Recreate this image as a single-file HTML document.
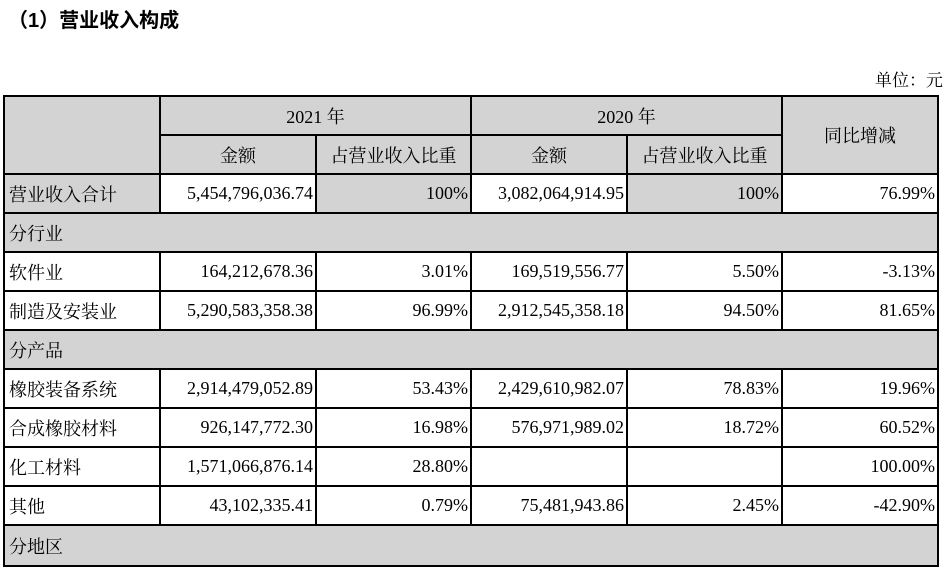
<!DOCTYPE html>
<html><head><meta charset="utf-8"><style>
body{margin:0;width:947px;height:571px;background:#fff;overflow:hidden;position:relative;font-family:"Liberation Serif","Noto Serif CJK SC",serif;color:#000}
.t{position:absolute;left:8px;top:4px;font-size:20px;font-weight:bold;font-family:"Liberation Sans","Noto Sans CJK SC",sans-serif}
.u{position:absolute;right:4px;top:66px;font-size:17px}
table{position:absolute;left:3px;top:95px;border-collapse:collapse;table-layout:fixed;font-size:18px}
td{border:2px solid #000;height:37px;padding:0 2px;white-space:nowrap;background:#fff;box-sizing:border-box}
.g{background:#d3d3d3}
.c{text-align:center}.r{text-align:right}.l{text-align:left;padding-left:4px}
</style></head><body>
<div class="t">（1）营业收入构成</div>
<div class="u">单位：元</div>
<table>
<colgroup><col style="width:156px"><col style="width:156px"><col style="width:155px"><col style="width:156px"><col style="width:155px"><col style="width:156px"></colgroup>
<tr style="height:39px"><td class="g" rowspan="2"></td><td class="g c" colspan="2">2021 年</td><td class="g c" colspan="2">2020 年</td><td class="g c" rowspan="2">同比增减</td></tr>
<tr style="height:39px"><td class="g c">金额</td><td class="g c">占营业收入比重</td><td class="g c">金额</td><td class="g c">占营业收入比重</td></tr>
<tr style="height:39px"><td class="g l">营业收入合计</td><td class="r">5,454,796,036.74</td><td class="g r">100%</td><td class="r">3,082,064,914.95</td><td class="g r">100%</td><td class="r">76.99%</td></tr>
<tr style="height:39px"><td class="g l" colspan="6">分行业</td></tr>
<tr style="height:39px"><td class="l">软件业</td><td class="r">164,212,678.36</td><td class="r">3.01%</td><td class="r">169,519,556.77</td><td class="r">5.50%</td><td class="r">-3.13%</td></tr>
<tr style="height:39px"><td class="l">制造及安装业</td><td class="r">5,290,583,358.38</td><td class="r">96.99%</td><td class="r">2,912,545,358.18</td><td class="r">94.50%</td><td class="r">81.65%</td></tr>
<tr style="height:39px"><td class="g l" colspan="6">分产品</td></tr>
<tr style="height:39px"><td class="l">橡胶装备系统</td><td class="r">2,914,479,052.89</td><td class="r">53.43%</td><td class="r">2,429,610,982.07</td><td class="r">78.83%</td><td class="r">19.96%</td></tr>
<tr style="height:39px"><td class="l">合成橡胶材料</td><td class="r">926,147,772.30</td><td class="r">16.98%</td><td class="r">576,971,989.02</td><td class="r">18.72%</td><td class="r">60.52%</td></tr>
<tr style="height:39px"><td class="l">化工材料</td><td class="r">1,571,066,876.14</td><td class="r">28.80%</td><td class="r"></td><td class="r"></td><td class="r">100.00%</td></tr>
<tr style="height:39px"><td class="l">其他</td><td class="r">43,102,335.41</td><td class="r">0.79%</td><td class="r">75,481,943.86</td><td class="r">2.45%</td><td class="r">-42.90%</td></tr>
<tr style="height:41px"><td class="g l" colspan="6">分地区</td></tr>
</table>
</body></html>
